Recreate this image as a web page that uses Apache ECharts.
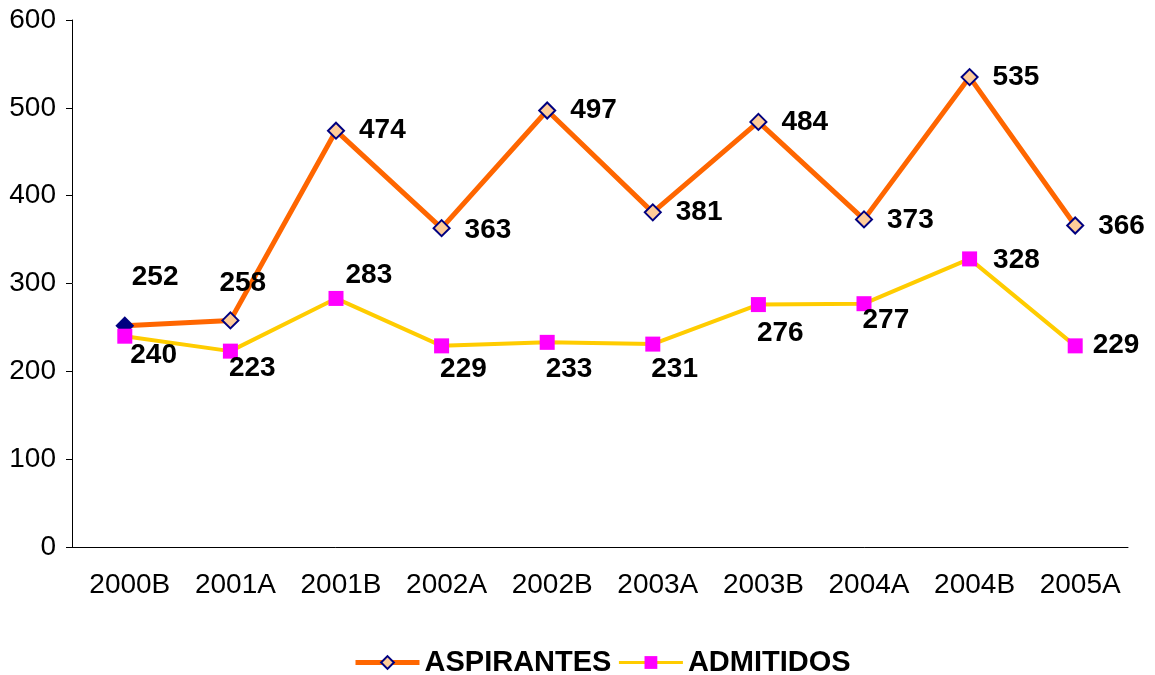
<!DOCTYPE html>
<html>
<head>
<meta charset="utf-8">
<script src="https://cdn.jsdelivr.net/npm/echarts@6/dist/echarts.min.js"></script>
<style>
  html, body { margin: 0; padding: 0; background: #fff; }
  #chart { width: 1155px; height: 675px; }
</style>
</head>
<body>
<div id="chart"></div>
<script>
// datos
const semestres = ["2000B", "2001A", "2001B", "2002A", "2002B", "2003A", "2003B", "2004A", "2004B", "2005A"];
const aspirantes = [252, 258, 474, 363, 497, 381, 484, 373, 535, 366];
const admitidos = [240, 223, 283, 229, 233, 231, 276, 277, 328, 229];

// desplazamiento de cada etiqueta respecto a la posicion "right"
const offAsp = [[-18, -48], [-36, -37], [-2, 0], [-2, 2], [-2, 0], [-2, 0], [-2, 0], [-2, 1], [-2, 0], [-2, 1]];
const offAdm = [[-18, 19], [-25, 17], [-14, -23], [-25, 23], [-25, 27], [-25, 25], [-25, 29], [-25, 17], [0, 1], [-6, -1]];

const fuente = "Liberation Sans, Arial, sans-serif";

function conEtiquetas(vals, offs) {
  return vals.map((v, i) => ({
    value: v,
    label: { offset: offs[i] }
  }));
}

const datosAsp = conEtiquetas(aspirantes, offAsp);
// el primer punto se ve relleno en azul oscuro
datosAsp[0].itemStyle = { color: "#000080" };

let myChart = echarts.init(document.getElementById("chart"));
let option = {
  animation: false,
  backgroundColor: "#fff",
  grid: {
    left: 72,
    right: 27,
    top: 20,
    bottom: 128
  },
  legend: {
    top: 643,
    left: 348,
    itemWidth: 64,
    itemHeight: 16,
    itemGap: 6,
    textStyle: {
      fontFamily: fuente,
      fontSize: 29,
      fontWeight: "bold",
      color: "#000"
    },
    data: [
      { name: "ASPIRANTES", lineStyle: { width: 5 } },
      { name: "ADMITIDOS", lineStyle: { width: 3 } }
    ]
  },
  xAxis: {
    type: "category",
    data: semestres,
    boundaryGap: true,
    axisLine: { lineStyle: { color: "#000", width: 1 } },
    axisTick: { length: 6, lineStyle: { color: "#000" } },
    axisLabel: {
      fontFamily: fuente,
      fontSize: 28,
      color: "#000",
      margin: 24,
      padding: [0, 0, 0, 10],
      interval: 0
    }
  },
  yAxis: {
    type: "value",
    min: 0,
    max: 600,
    interval: 100,
    splitLine: { show: false },
    axisLine: { show: true, lineStyle: { color: "#000", width: 1 } },
    axisTick: { show: true, length: 6, lineStyle: { color: "#000" } },
    axisLabel: {
      fontFamily: fuente,
      fontSize: 28,
      color: "#000",
      margin: 16
    }
  },
  series: [
    {
      name: "ASPIRANTES",
      type: "line",
      data: datosAsp,
      symbol: "diamond",
      symbolSize: 16,
      lineStyle: { color: "#FF6600", width: 5 },
      itemStyle: { color: "#FFCC99", borderColor: "#000080", borderWidth: 2 },
      label: {
        show: true,
        position: "right",
        distance: 16,
        fontFamily: fuente,
        fontSize: 28,
        fontWeight: "bold",
        color: "#000"
      },
      z: 2
    },
    {
      name: "ADMITIDOS",
      type: "line",
      data: conEtiquetas(admitidos, offAdm),
      symbol: "rect",
      symbolSize: 15,
      lineStyle: { color: "#FFCC00", width: 4 },
      itemStyle: { color: "#FF00FF", borderWidth: 0 },
      label: {
        show: true,
        position: "right",
        distance: 16,
        fontFamily: fuente,
        fontSize: 28,
        fontWeight: "bold",
        color: "#000"
      },
      z: 3
    }
  ]
};
myChart.setOption(option);
</script>
</body>
</html>
